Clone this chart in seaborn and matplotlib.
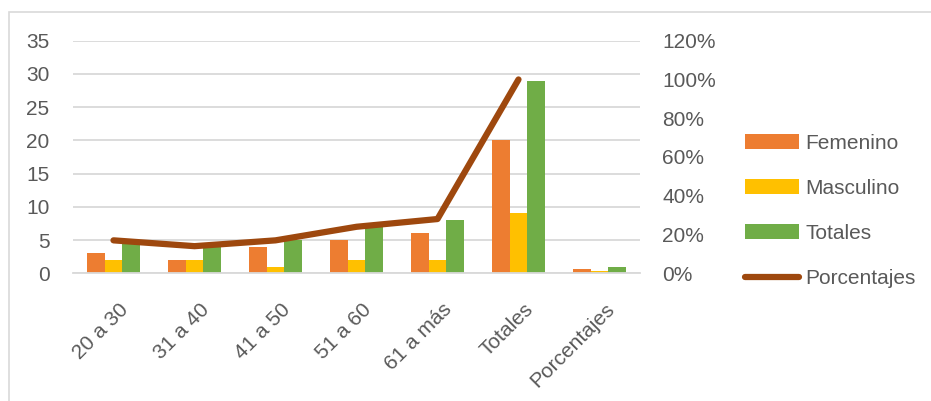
import numpy as np
import pandas as pd
import matplotlib
matplotlib.use("Agg")
import matplotlib.pyplot as plt
import matplotlib.transforms as mtransforms
import seaborn as sns
from matplotlib.patches import Patch, Rectangle
from matplotlib.lines import Line2D
from matplotlib.ticker import PercentFormatter

# Data
categories = ["20 a 30", "31 a 40", "41 a 50", "51 a 60", "61 a más", "Totales", "Porcentajes"]
femenino = [3, 2, 4, 5, 6, 20, 0.69]
masculino = [2, 2, 1, 2, 2, 9, 0.31]
totales = [5, 4, 5, 7, 8, 29, 1.0]
# line only runs over the first six categories
porcentajes = [0.17, 0.14, 0.17, 0.24, 0.28, 1.0]

series = ["Femenino", "Masculino", "Totales"]
colors = {"Femenino": "#ED7D31", "Masculino": "#FFC000", "Totales": "#70AD47"}
line_color = "#9E480E"
text_color = "#595959"
grid_color = "#D9D9D9"

sns.set_style("white")
plt.rcParams["font.family"] = ["Liberation Sans", "DejaVu Sans"]
plt.rcParams["font.size"] = 15

df = pd.DataFrame({
    "categoria": categories * 3,
    "serie": [s for s in series for _ in categories],
    "valor": femenino + masculino + totales,
})

fig = plt.figure(figsize=(9.31, 4.01), dpi=100)
ax = fig.add_axes([73 / 931, 1 - 273.3 / 401, (640 - 73) / 931, (273.3 - 40.7) / 401])

sns.barplot(data=df, x="categoria", y="valor", hue="serie", order=categories,
            hue_order=series, palette=colors, width=0.65, gap=0, ax=ax,
            legend=False, saturation=1, edgecolor="none")

ax.set_ylim(0, 35)
ax.set_yticks(range(0, 36, 5))
ax.set_xlim(-0.5, len(categories) - 0.5)
ax.grid(axis="y", color=grid_color, lw=1.3)
ax.set_axisbelow(True)
sns.despine(ax=ax, left=True, right=True, top=True)
ax.spines["bottom"].set_color(grid_color)
ax.spines["bottom"].set_linewidth(1.3)
ax.set_xlabel("")
ax.set_ylabel("")
ax.tick_params(axis="y", length=0, pad=17, colors=text_color)

# percentage line on the secondary axis
ax2 = ax.twinx()
sns.lineplot(x=np.arange(len(porcentajes)), y=porcentajes, ax=ax2, color=line_color,
             lw=4.5, solid_capstyle="round", legend=False)
ax2.set_ylim(0, 1.2)
ax2.set_yticks(np.arange(0, 1.21, 0.2))
ax2.yaxis.set_major_formatter(PercentFormatter(1.0, decimals=0))
ax2.tick_params(axis="y", length=0, pad=16, colors=text_color)
ax2.set_ylabel("")
for s in ax2.spines.values():
    s.set_visible(False)

ax.set_xticks(range(len(categories)))
ax.set_xticklabels(categories, rotation=45, ha="right", rotation_mode="anchor")
ax.tick_params(axis="x", length=0, pad=19, colors=text_color)
shift = mtransforms.ScaledTranslation(5 / 100, 0, fig.dpi_scale_trans)
for lbl in ax.get_xticklabels():
    lbl.set_transform(lbl.get_transform() + shift)

handles = [Patch(facecolor=colors[s], edgecolor="none", label=s) for s in series]
handles.append(Line2D([], [], color=line_color, lw=4.5, solid_capstyle="round",
                      label="Porcentajes"))
fig.legend(handles=handles, loc="center left", bbox_to_anchor=(745 / 931, 1 - 211 / 401),
           frameon=False, handlelength=2.6, handleheight=0.7, handletextpad=0.3,
           labelspacing=1.25, borderpad=0, borderaxespad=0, labelcolor=text_color)

# chart border (only top and left edges fall inside the image)
fig.add_artist(Rectangle((8.5 / 931, -0.1), 1.2, 1 - 12 / 401 + 0.1, transform=fig.transFigure,
                         fill=False, edgecolor=grid_color, lw=1.2))

fig.savefig("out.png", dpi=100, facecolor="white")
